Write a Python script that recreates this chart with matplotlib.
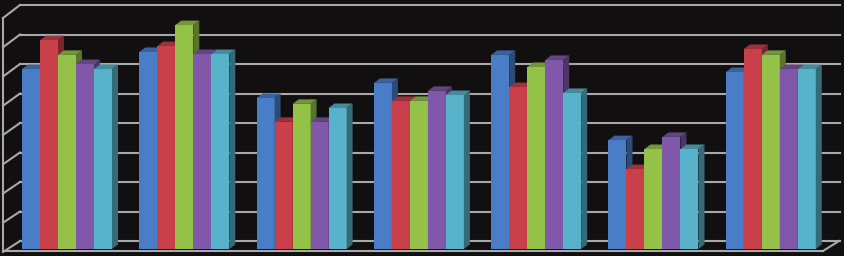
import matplotlib.pyplot as plt
from matplotlib.patches import Polygon
import matplotlib.colors as mcolors

# valores (unidade = uma divisão da grade)
grupos = ["G1", "G2", "G3", "G4", "G5", "G6", "G7"]
serie_azul = [6.10, 6.68, 5.12, 5.63, 6.58, 3.69, 6.00]
serie_vermelha = [7.08, 6.88, 4.31, 5.02, 5.49, 2.71, 6.78]
serie_verde = [6.58, 7.59, 4.92, 5.02, 6.17, 3.39, 6.58]
serie_roxa = [6.27, 6.61, 4.31, 5.36, 6.41, 3.80, 6.10]
serie_ciano = [6.10, 6.61, 4.78, 5.22, 5.29, 3.39, 6.10]

series = [serie_azul, serie_vermelha, serie_verde, serie_roxa, serie_ciano]
cores = ["#4a7dc8", "#c9404a", "#94c248", "#7f58a9", "#58b2c9"]

fundo = "#110f0f"
cor_grade = "#a9a9a9"

px = 29.5          # pixels por divisão
largura = 18       # largura de cada barra (px)
passo_grupo = 117.3
inicio = 22
prof_x = 6         # profundidade das barras
prof_y = 4.5 / px
parede_dx = 17     # profundidade da parede
parede_dy = 8 / px

fig = plt.figure(figsize=(8.45, 2.56), dpi=100, facecolor=fundo)
ax = fig.add_axes([0, 0, 1, 1])
ax.set_facecolor(fundo)
ax.set_xlim(0, 845)
ax.set_ylim(-7 / px, 249 / px)
ax.axis("off")

# parede do fundo e parede lateral
for k in range(9):
    yb = k + parede_dy
    ax.plot([20, 840], [yb, yb], color=cor_grade, lw=1.5, zorder=1)
    yf = yb - (11 + 2 * k / 8) / px
    ax.plot([3, 20], [yf, yb], color=cor_grade, lw=1.5, zorder=1)
ax.plot([3, 3], [-2 / px, 8 + parede_dy - 13 / px], color=cor_grade, lw=1.5, zorder=1)
# chão
ax.plot([3, 823], [-2 / px, -2 / px], color=cor_grade, lw=1.5, zorder=1)
ax.plot([823, 839], [-2 / px, parede_dy], color=cor_grade, lw=1.5, zorder=1)


def escurecer(cor, f):
    r, g, b = mcolors.to_rgb(cor)
    return (r * f, g * f, b * f)


z = 2
for i, nome in enumerate(grupos):
    x0 = inicio + passo_grupo * i
    for j, serie in enumerate(series):
        h = serie[i]
        x = x0 + largura * j
        cor = cores[j]
        ax.bar(x, h, width=largura, bottom=0, align="edge", color=cor,
               linewidth=0, zorder=z)
        lado = Polygon([(x + largura, 0), (x + largura + prof_x, prof_y),
                        (x + largura + prof_x, h + prof_y), (x + largura, h)],
                       closed=True, facecolor=escurecer(cor, 0.6), lw=0, zorder=z)
        topo = Polygon([(x, h), (x + prof_x, h + prof_y),
                        (x + largura + prof_x, h + prof_y), (x + largura, h)],
                       closed=True, facecolor=escurecer(cor, 0.78), lw=0, zorder=z)
        ax.add_patch(lado)
        ax.add_patch(topo)
        z += 1

fig.savefig("out.png", dpi=100, facecolor=fundo)
